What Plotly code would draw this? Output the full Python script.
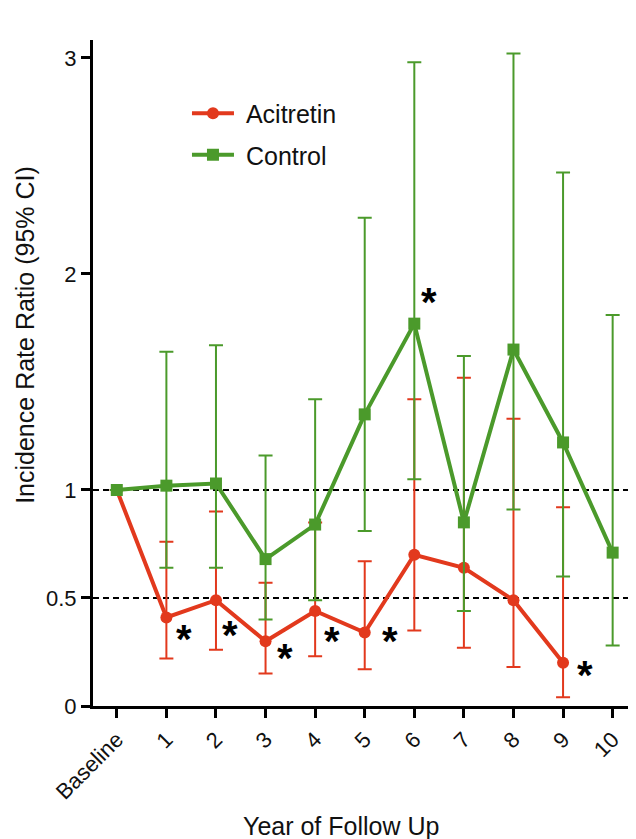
import plotly.graph_objects as go

categories = ["Baseline", "1", "2", "3", "4", "5", "6", "7", "8", "9", "10"]

acitretin_x = [0, 1, 2, 3, 4, 5, 6, 7, 8, 9]
acitretin = [1.0, 0.41, 0.49, 0.30, 0.44, 0.34, 0.70, 0.64, 0.49, 0.20]
acitretin_upper = [1.0, 0.76, 0.90, 0.57, 0.85, 0.67, 1.42, 1.52, 1.33, 0.92]
acitretin_lower = [1.0, 0.22, 0.26, 0.15, 0.23, 0.17, 0.35, 0.27, 0.18, 0.04]

control_x = [0, 1, 2, 3, 4, 5, 6, 7, 8, 9, 10]
control = [1.0, 1.02, 1.03, 0.68, 0.84, 1.35, 1.77, 0.85, 1.65, 1.22, 0.71]
control_upper = [1.0, 1.64, 1.67, 1.16, 1.42, 2.26, 2.98, 1.62, 3.02, 2.47, 1.81]
control_lower = [1.0, 0.64, 0.64, 0.40, 0.49, 0.81, 1.05, 0.44, 0.91, 0.60, 0.28]

y_ticks = [0, 0.5, 1, 2, 3]
y_tick_labels = ["0", "0.5", "1", "2", "3"]
reference_lines = [1.0, 0.5]

# significance asterisk positions (x, y in data units)
star_x = [1.36, 2.28, 3.4, 4.33, 5.5, 6.3, 9.45]
star_y = [0.31, 0.33, 0.22, 0.30, 0.30, 1.87, 0.145]

RED = "#e2391d"
GREEN = "#4b9a2b"
FONT = "Arial, Liberation Sans, sans-serif"

fig = go.Figure()

fig.add_trace(go.Scatter(
    x=acitretin_x, y=acitretin, name="\u00a0Acitretin", mode="lines+markers",
    legendgroup="a",
    line=dict(color=RED, width=4),
    marker=dict(symbol="circle", size=12, color=RED),
    error_y=dict(type="data", symmetric=False,
                 array=[u - v for u, v in zip(acitretin_upper, acitretin)],
                 arrayminus=[v - l for v, l in zip(acitretin, acitretin_lower)],
                 color=RED, thickness=2, width=7),
))

fig.add_trace(go.Scatter(
    x=control_x, y=control, name="\u00a0Control", mode="lines+markers",
    legendgroup="b",
    line=dict(color=GREEN, width=4),
    marker=dict(symbol="square", size=12, color=GREEN),
    error_y=dict(type="data", symmetric=False,
                 array=[u - v for u, v in zip(control_upper, control)],
                 arrayminus=[v - l for v, l in zip(control, control_lower)],
                 color=GREEN, thickness=2, width=7),
))

for yv in reference_lines:
    fig.add_shape(type="line", xref="paper", yref="y", x0=0, x1=1, y0=yv, y1=yv,
                  line=dict(color="black", width=2, dash="6px,4px"), layer="below")

for sx, sy in zip(star_x, star_y):
    fig.add_annotation(x=sx, y=sy, text="<b>*</b>", showarrow=False,
                       font=dict(size=40, color="black", family=FONT))

# axis titles
fig.add_annotation(text="Year of Follow Up", xref="paper", yref="paper",
                   x=0.462, y=-0.18, xanchor="center", yanchor="middle",
                   showarrow=False, font=dict(size=25, color="#111111", family=FONT))
fig.add_annotation(text="Incidence Rate Ratio (95% CI)", xref="paper", yref="paper",
                   x=-0.127, y=0.557, xanchor="center", yanchor="middle", textangle=-90,
                   showarrow=False, font=dict(size=25, color="#111111", family=FONT))

fig.update_layout(
    width=628, height=831,
    paper_bgcolor="white", plot_bgcolor="white",
    margin=dict(l=85, r=6, t=32, b=133, autoexpand=False),
    font=dict(family=FONT, color="#111111"),
    showlegend=True,
    legend=dict(x=0.175, y=0.924, xanchor="left", yanchor="top",
                font=dict(size=25), bgcolor="rgba(0,0,0,0)",
                itemwidth=42, tracegroupgap=6),
)

fig.update_xaxes(
    range=[-0.48, 10.35], tickmode="array", tickvals=list(range(len(categories))),
    ticktext=categories, tickangle=-45, tickfont=dict(size=22),
    showline=True, linecolor="black", linewidth=3,
    ticks="outside", ticklen=9, tickwidth=3, tickcolor="black",
    showgrid=False, zeroline=False, automargin=False,
)

fig.update_yaxes(
    range=[0, 3.083], tickmode="array", tickvals=y_ticks, ticktext=y_tick_labels,
    tickfont=dict(size=22),
    showline=True, linecolor="black", linewidth=3,
    ticks="outside", ticklen=9, tickwidth=3, tickcolor="black",
    showgrid=False, zeroline=False, automargin=False,
)

fig.write_html("out.html")
